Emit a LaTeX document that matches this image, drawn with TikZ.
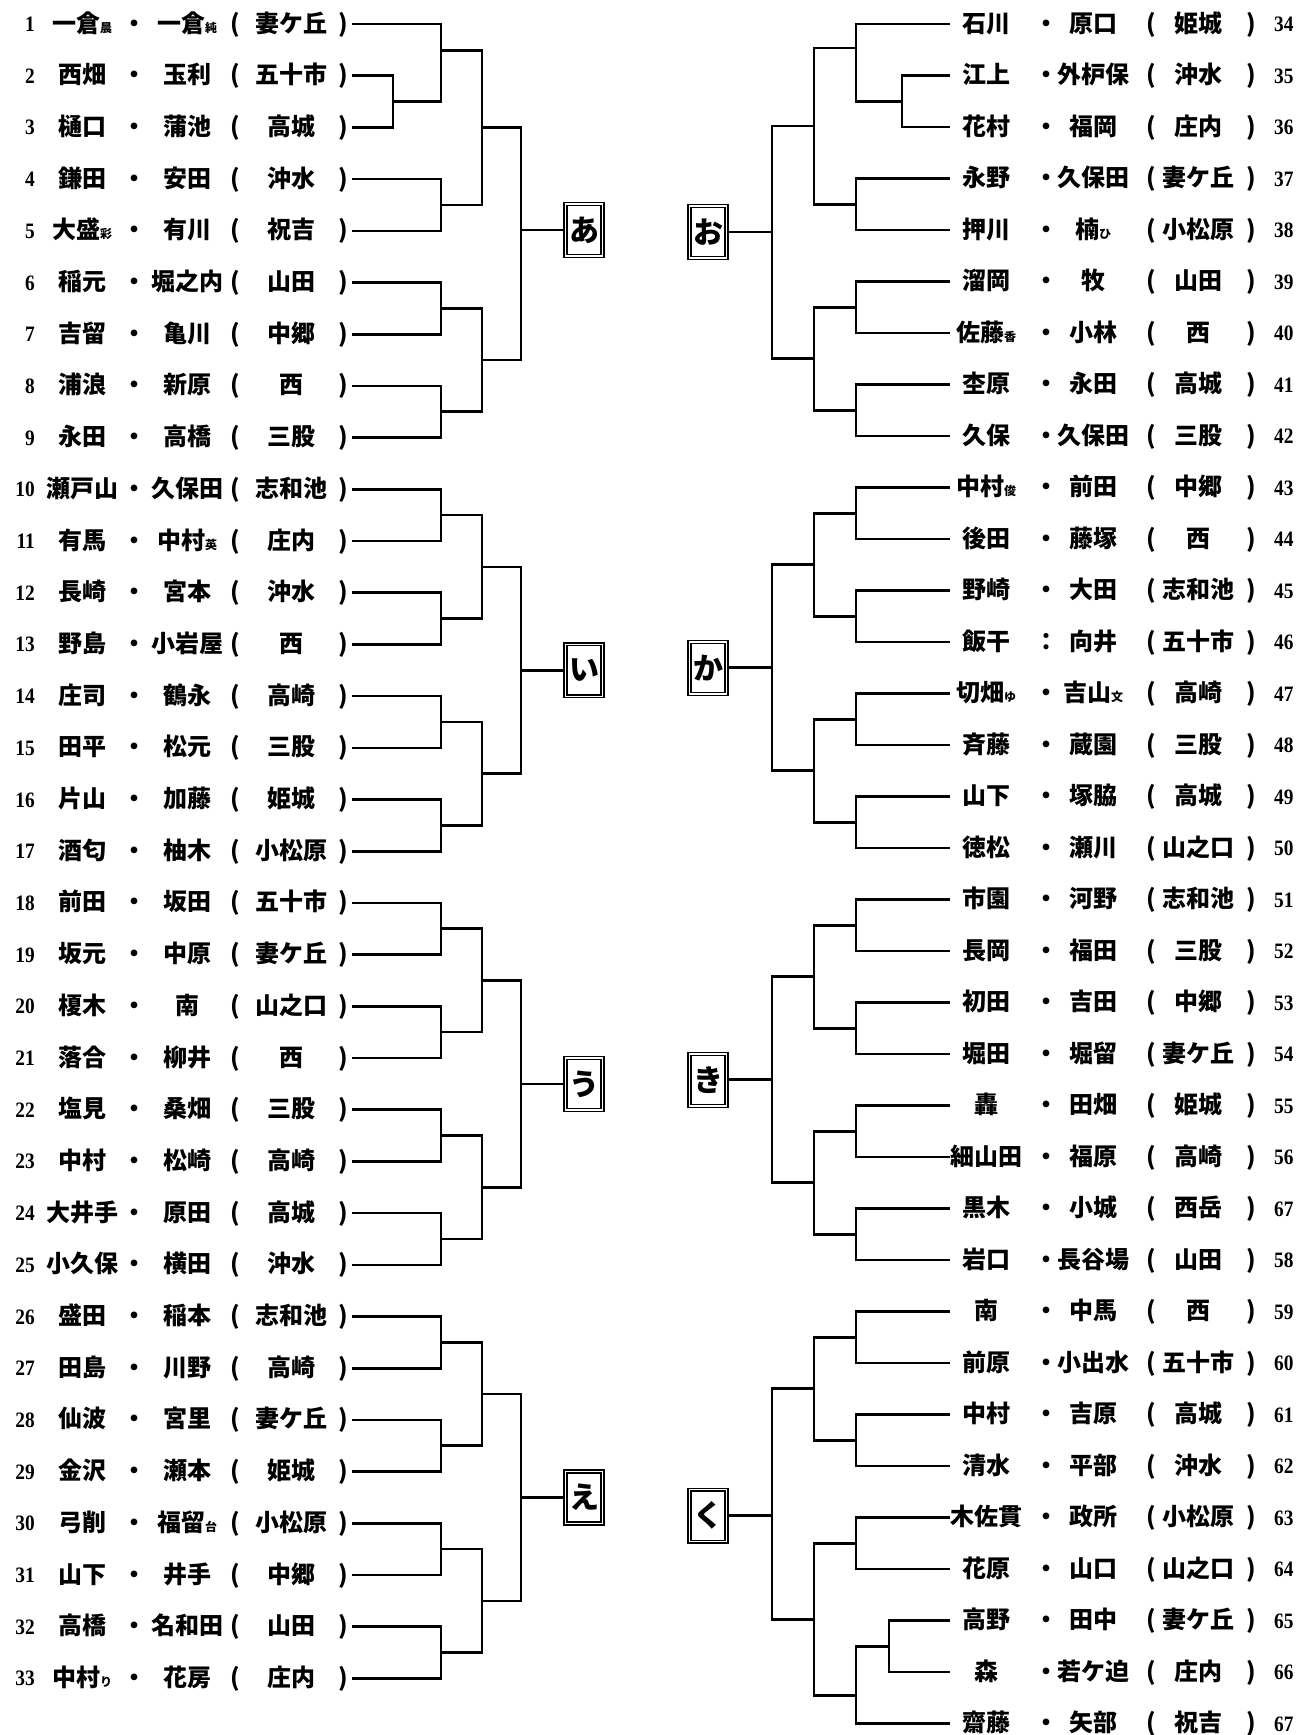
\documentclass[tikz,border=0pt]{standalone}
\usepackage{fontspec}
\usepackage{tikz}
\usetikzlibrary{calc}
\newfontfamily\jp{Noto Sans CJK JP}
\newfontfamily\numfont{Liberation Serif}[FakeStretch=0.88]

% small name tag (given-name initial)
\newcommand\sm[1]{{\fontsize{12}{12}\selectfont #1}}

% one entry of the left column
\newcommand\leftrow[4]{%
  \pgfmathsetmacro\rowy{24+(#1-1)*51.7}
  \node[numtxt,anchor=east] (ln#1) at (35,\rowy) {#1};
  \node[txt] (la#1) at (82,\rowy) {#2};
  \node[txt] (ld#1) at (134,\rowy) {・};
  \node[txt] (lb#1) at (187,\rowy) {#3};
  \node[txt] (lo#1) at (235,\rowy) {(};
  \node[txt] (ls#1) at (291,\rowy) {#4};
  \node[txt] (lc#1) at (343,\rowy) {)};
  \coordinate (e#1) at (352,\rowy);}

% one entry of the right column
\newcommand\rightrow[6][・]{%
  \pgfmathsetmacro\rowy{24+(#2-34)*51.5}
  \coordinate (f#2) at (950,\rowy);
  \node[txt] (ra#2) at (986,\rowy) {#4};
  \node[txt] (rd#2) at (1046,\rowy) {#1};
  \node[txt] (rb#2) at (1093,\rowy) {#5};
  \node[txt] (ro#2) at (1151,\rowy) {(};
  \node[txt] (rs#2) at (1198,\rowy) {#6};
  \node[txt] (rc#2) at (1251,\rowy) {)};
  \node[numtxt,anchor=west] (rn#2) at (1274,\rowy) {#3};}

% bracket: top, bottom, column, new point, where on the bar
\newcommand\pairjoin[5]{%
  \draw[wire] (#1) -- (#1 -| #3) -- (#2 -| #3) -- (#2);
  \coordinate (#4) at ($(#1 -| #3)!#5!(#2 -| #3)$);}

\begin{document}
\begin{tikzpicture}[x=1pt,y=-1pt,
  txt/.style={inner sep=0pt,text height=20pt,text depth=4pt,
    font=\jp\bfseries\fontsize{24}{24}\selectfont},
  numtxt/.style={inner sep=0pt,text height=15pt,text depth=0pt,
    font=\numfont\bfseries\fontsize{22}{22}\selectfont},
  wire/.style={line width=2.6pt,line join=miter},
  pool/.style={draw,line width=1.4pt,double,double distance=1.5pt,
    minimum width=37pt,minimum height=52pt,inner sep=0pt,
    font=\jp\bfseries\fontsize{30}{30}\selectfont}]
  \fill[white] (0,0) rectangle (1305,1735);
  \useasboundingbox (0,0) rectangle (1305,1735);

  % columns of the brackets
  \coordinate (lx0) at (393,0); \coordinate (lx1) at (441,0);
  \coordinate (lx2) at (482,0); \coordinate (lx3) at (521,0);
  \coordinate (rx0) at (902,0); \coordinate (rx0b) at (889,0);
  \coordinate (rx1) at (856,0); \coordinate (rx2) at (814,0);
  \coordinate (rx3) at (772,0);

  % left column
  \leftrow{1}{一倉\sm{晨}}{一倉\sm{純}}{妻ケ丘}
  \leftrow{2}{西畑}{玉利}{五十市}
  \leftrow{3}{樋口}{蒲池}{高城}
  \leftrow{4}{鎌田}{安田}{沖水}
  \leftrow{5}{大盛\sm{彩}}{有川}{祝吉}
  \leftrow{6}{稲元}{堀之内}{山田}
  \leftrow{7}{吉留}{亀川}{中郷}
  \leftrow{8}{浦浪}{新原}{西}
  \leftrow{9}{永田}{高橋}{三股}
  \leftrow{10}{瀬戸山}{久保田}{志和池}
  \leftrow{11}{有馬}{中村\sm{英}}{庄内}
  \leftrow{12}{長崎}{宮本}{沖水}
  \leftrow{13}{野島}{小岩屋}{西}
  \leftrow{14}{庄司}{鶴永}{高崎}
  \leftrow{15}{田平}{松元}{三股}
  \leftrow{16}{片山}{加藤}{姫城}
  \leftrow{17}{酒匂}{柚木}{小松原}
  \leftrow{18}{前田}{坂田}{五十市}
  \leftrow{19}{坂元}{中原}{妻ケ丘}
  \leftrow{20}{榎木}{南}{山之口}
  \leftrow{21}{落合}{柳井}{西}
  \leftrow{22}{塩見}{桑畑}{三股}
  \leftrow{23}{中村}{松崎}{高崎}
  \leftrow{24}{大井手}{原田}{高城}
  \leftrow{25}{小久保}{横田}{沖水}
  \leftrow{26}{盛田}{稲本}{志和池}
  \leftrow{27}{田島}{川野}{高崎}
  \leftrow{28}{仙波}{宮里}{妻ケ丘}
  \leftrow{29}{金沢}{瀬本}{姫城}
  \leftrow{30}{弓削}{福留\sm{台}}{小松原}
  \leftrow{31}{山下}{井手}{中郷}
  \leftrow{32}{高橋}{名和田}{山田}
  \leftrow{33}{中村\sm{り}}{花房}{庄内}

  % right column
  \rightrow{34}{34}{石川}{原口}{姫城}
  \rightrow{35}{35}{江上}{外枦保}{沖水}
  \rightrow{36}{36}{花村}{福岡}{庄内}
  \rightrow{37}{37}{永野}{久保田}{妻ケ丘}
  \rightrow{38}{38}{押川}{楠\sm{ひ}}{小松原}
  \rightrow{39}{39}{溜岡}{牧}{山田}
  \rightrow{40}{40}{佐藤\sm{香}}{小林}{西}
  \rightrow{41}{41}{杢原}{永田}{高城}
  \rightrow{42}{42}{久保}{久保田}{三股}
  \rightrow{43}{43}{中村\sm{俊}}{前田}{中郷}
  \rightrow{44}{44}{後田}{藤塚}{西}
  \rightrow{45}{45}{野崎}{大田}{志和池}
  \rightrow[：]{46}{46}{飯干}{向井}{五十市}
  \rightrow{47}{47}{切畑\sm{ゆ}}{吉山\sm{文}}{高崎}
  \rightrow{48}{48}{斉藤}{蔵園}{三股}
  \rightrow{49}{49}{山下}{塚脇}{高城}
  \rightrow{50}{50}{徳松}{瀬川}{山之口}
  \rightrow{51}{51}{市園}{河野}{志和池}
  \rightrow{52}{52}{長岡}{福田}{三股}
  \rightrow{53}{53}{初田}{吉田}{中郷}
  \rightrow{54}{54}{堀田}{堀留}{妻ケ丘}
  \rightrow{55}{55}{轟}{田畑}{姫城}
  \rightrow{56}{56}{細山田}{福原}{高崎}
  \rightrow{57}{67}{黒木}{小城}{西岳}
  \rightrow{58}{58}{岩口}{長谷場}{山田}
  \rightrow{59}{59}{南}{中馬}{西}
  \rightrow{60}{60}{前原}{小出水}{五十市}
  \rightrow{61}{61}{中村}{吉原}{高城}
  \rightrow{62}{62}{清水}{平部}{沖水}
  \rightrow{63}{63}{木佐貫}{政所}{小松原}
  \rightrow{64}{64}{花原}{山口}{山之口}
  \rightrow{65}{65}{高野}{田中}{妻ケ丘}
  \rightrow{66}{66}{森}{若ケ迫}{庄内}
  \rightrow{67}{67}{齋藤}{矢部}{祝吉}

  % block あ
  \pairjoin{e2}{e3}{lx0}{a23}{.5}
  \pairjoin{e1}{a23}{lx1}{a13}{.34}
  \pairjoin{e4}{e5}{lx1}{a45}{.5}
  \pairjoin{a13}{a45}{lx2}{a15}{.5}
  \pairjoin{e6}{e7}{lx1}{a67}{.5}
  \pairjoin{e8}{e9}{lx1}{a89}{.5}
  \pairjoin{a67}{a89}{lx2}{a69}{.5}
  \pairjoin{a15}{a69}{lx3}{aA}{.44}
  \node[pool] (boxA) at ($(aA)+(63,0)$) {あ};
  \draw[wire] (aA) -- (boxA.west);

  % block い
  \pairjoin{e10}{e11}{lx1}{a1011}{.5}
  \pairjoin{e12}{e13}{lx1}{a1213}{.5}
  \pairjoin{a1011}{a1213}{lx2}{a1013}{.5}
  \pairjoin{e14}{e15}{lx1}{a1415}{.5}
  \pairjoin{e16}{e17}{lx1}{a1617}{.5}
  \pairjoin{a1415}{a1617}{lx2}{a1417}{.5}
  \pairjoin{a1013}{a1417}{lx3}{aI}{.5}
  \node[pool] (boxI) at ($(aI)+(63,0)$) {い};
  \draw[wire] (aI) -- (boxI.west);

  % block う
  \pairjoin{e18}{e19}{lx1}{a1819}{.5}
  \pairjoin{e20}{e21}{lx1}{a2021}{.5}
  \pairjoin{a1819}{a2021}{lx2}{a1821}{.5}
  \pairjoin{e22}{e23}{lx1}{a2223}{.5}
  \pairjoin{e24}{e25}{lx1}{a2425}{.5}
  \pairjoin{a2223}{a2425}{lx2}{a2225}{.5}
  \pairjoin{a1821}{a2225}{lx3}{aU}{.5}
  \node[pool] (boxU) at ($(aU)+(63,0)$) {う};
  \draw[wire] (aU) -- (boxU.west);

  % block え
  \pairjoin{e26}{e27}{lx1}{a2627}{.5}
  \pairjoin{e28}{e29}{lx1}{a2829}{.5}
  \pairjoin{a2627}{a2829}{lx2}{a2629}{.5}
  \pairjoin{e30}{e31}{lx1}{a3031}{.5}
  \pairjoin{e32}{e33}{lx1}{a3233}{.5}
  \pairjoin{a3031}{a3233}{lx2}{a3033}{.5}
  \pairjoin{a2629}{a3033}{lx3}{aE}{.5}
  \node[pool] (boxE) at ($(aE)+(63,0)$) {え};
  \draw[wire] (aE) -- (boxE.west);

  % block お
  \pairjoin{f35}{f36}{rx0}{b3536}{.5}
  \pairjoin{f34}{b3536}{rx1}{b3436}{.31}
  \pairjoin{f37}{f38}{rx1}{b3738}{.5}
  \pairjoin{b3436}{b3738}{rx2}{b3438}{.5}
  \pairjoin{f39}{f40}{rx1}{b3940}{.5}
  \pairjoin{f41}{f42}{rx1}{b4142}{.5}
  \pairjoin{b3940}{b4142}{rx2}{b3942}{.5}
  \pairjoin{b3438}{b3942}{rx3}{bO}{.455}
  \node[pool] (boxO) at ($(bO)+(-64,0)$) {お};
  \draw[wire] (bO) -- (boxO.east);

  % block か
  \pairjoin{f43}{f44}{rx1}{b4344}{.5}
  \pairjoin{f45}{f46}{rx1}{b4546}{.5}
  \pairjoin{b4344}{b4546}{rx2}{b4346}{.5}
  \pairjoin{f47}{f48}{rx1}{b4748}{.5}
  \pairjoin{f49}{f50}{rx1}{b4950}{.5}
  \pairjoin{b4748}{b4950}{rx2}{b4750}{.5}
  \pairjoin{b4346}{b4750}{rx3}{bKa}{.5}
  \node[pool] (boxKa) at ($(bKa)+(-64,0)$) {か};
  \draw[wire] (bKa) -- (boxKa.east);

  % block き
  \pairjoin{f51}{f52}{rx1}{b5152}{.5}
  \pairjoin{f53}{f54}{rx1}{b5354}{.5}
  \pairjoin{b5152}{b5354}{rx2}{b5154}{.5}
  \pairjoin{f55}{f56}{rx1}{b5556}{.5}
  \pairjoin{f57}{f58}{rx1}{b5758}{.5}
  \pairjoin{b5556}{b5758}{rx2}{b5558}{.5}
  \pairjoin{b5154}{b5558}{rx3}{bKi}{.5}
  \node[pool] (boxKi) at ($(bKi)+(-64,0)$) {き};
  \draw[wire] (bKi) -- (boxKi.east);

  % block く
  \pairjoin{f59}{f60}{rx1}{b5960}{.5}
  \pairjoin{f61}{f62}{rx1}{b6162}{.5}
  \pairjoin{b5960}{b6162}{rx2}{b5962}{.5}
  \pairjoin{f63}{f64}{rx1}{b6364}{.5}
  \pairjoin{f65}{f66}{rx0b}{b6566}{.5}
  \pairjoin{b6566}{f67}{rx1}{b6567}{.64}
  \pairjoin{b6364}{b6567}{rx2}{b6367}{.5}
  \pairjoin{b5962}{b6367}{rx3}{bKu}{.55}
  \node[pool] (boxKu) at ($(bKu)+(-64,0)$) {く};
  \draw[wire] (bKu) -- (boxKu.east);
\end{tikzpicture}
\end{document}
